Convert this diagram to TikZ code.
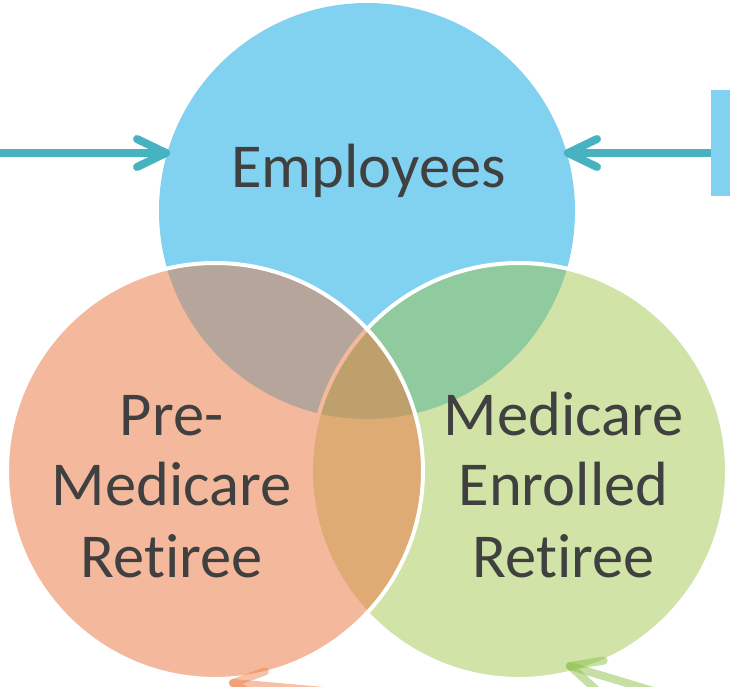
\documentclass[tikz,border=0pt]{standalone}
\usepackage{fontspec}
\setmainfont{Carlito}[Ligatures=NoCommon]
\definecolor{cB}{HTML}{81D1F0}
\definecolor{cO}{HTML}{F4B99C}
\definecolor{cG}{HTML}{D1E3A6}
\definecolor{cBO}{HTML}{B5A59B}
\definecolor{cBG}{HTML}{8FCB9E}
\definecolor{cOG}{HTML}{DDAB73}
\definecolor{cT}{HTML}{BEA06C}
\definecolor{tealc}{HTML}{47B3C1}
\definecolor{txt}{HTML}{404040}
\definecolor{arrO}{HTML}{EE8450}
\definecolor{arrG}{HTML}{8DC04A}
\begin{document}
\begin{tikzpicture}[x=1pt,y=-1pt,
  lbl/.style={text=txt, font=\fontsize{62.5}{70}\selectfont, inner sep=0, anchor=base},
  tealarrow/.style={draw=tealc, line width=8, line cap=round, line join=round},
  softarrow/.style={line width=8, line cap=round, line join=round, opacity=0.5},
  ring/.style={line width=4}]
\clip (0,0) rectangle (730,687);
\coordinate (cE) at (367,211);
\coordinate (cP) at (215,471);
\coordinate (cM) at (519,471);
% blue circle
\fill[cB] (cE) circle[radius=208];
% green circle
\fill[cG] (cM) circle[radius=208];
\begin{scope}
  \clip (cE) circle[radius=208];
  \fill[cBG] (cM) circle[radius=208];
\end{scope}
\draw[white, ring] (cM) circle[radius=208];
% orange circle
\fill[cO] (cP) circle[radius=208];
\begin{scope}
  \clip (cP) circle[radius=208];
  \fill[cBO] (cE) circle[radius=208];
  \fill[cOG] (cM) circle[radius=208];
  \clip (cE) circle[radius=208];
  \fill[cT] (cM) circle[radius=208];
\end{scope}
\begin{scope}
  \clip (cP) circle[radius=208];
  \draw[cO, ring] (cM) circle[radius=208];
\end{scope}
\draw[white, ring] (cP) circle[radius=208];
% labels
\node[lbl] (emp) at (368.5,187) {Employees};
\node[lbl] (pre1) at (171.5,435) {Pre-};
\node[lbl] (pre2) at (171.5,505) {Medicare};
\node[lbl] (pre3) at (171.5,577) {Retiree};
\node[lbl] (enr1) at (563.5,435) {Medicare};
\node[lbl] (enr2) at (563.5,505) {Enrolled};
\node[lbl] (enr3) at (563.5,577) {Retiree};
% left arrow
\coordinate (lstart) at (-5,153);
\coordinate (ltip) at (166,153);
\draw[tealarrow] (lstart) -- (ltip);
\draw[tealarrow] (ltip) ++(-29,-14) -- (ltip) -- ++(-29,14);
% right arrow and box
\coordinate (rtip) at (568,153);
\node[fill=cB, inner sep=0, minimum width=40, minimum height=106, anchor=north west] (box) at (711,90) {};
\draw[tealarrow] (box.west |- rtip) -- (rtip);
\draw[tealarrow] (rtip) ++(29,-14) -- (rtip) -- ++(29,14);
\fill[cB] (711,90) rectangle (751,196);
% bottom arrows (partly outside)
\coordinate (otip) at (233,683);
\draw[softarrow, draw=arrO] (otip) -- ++(5:150);
\draw[softarrow, draw=arrO] (otip) ++(-20:34) -- (otip) -- ++(30:34);
\coordinate (gtip) at (570,666);
\draw[softarrow, draw=arrG] (gtip) -- ++(16.7:150);
\draw[softarrow, draw=arrG] (gtip) ++(-9:34) -- (gtip) -- ++(42:34);
\end{tikzpicture}
\end{document}
